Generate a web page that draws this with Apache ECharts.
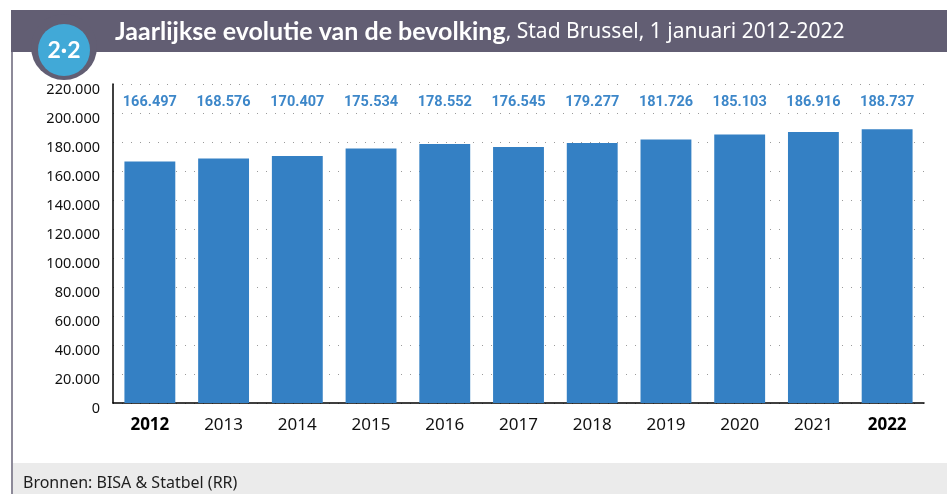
<!DOCTYPE html>
<html>
<head>
<meta charset="utf-8">
<script src="https://cdn.jsdelivr.net/npm/echarts@6/dist/echarts.min.js"></script>
<style>
html,body{margin:0;padding:0;background:#fff;}
#chart{width:947px;height:494px;}
</style>
</head>
<body>
<div id="chart"></div>
<script>
var years = ['2012','2013','2014','2015','2016','2017','2018','2019','2020','2021','2022'];
var population = [166497,168576,170407,175534,178552,176545,179277,181726,185103,186916,188737];
var yTicks = [0,20000,40000,60000,80000,100000,120000,140000,160000,180000,200000,220000];

// 166497 -> "166.497"
function dots(n){
	return String(n).replace(/\B(?=(\d{3})+(?!\d))/g,'.');
}

var chart = echarts.init(document.getElementById('chart'));
var option = {
	animation:false,
	backgroundColor:'#fff',
	grid:{left:113,right:23,top:84,bottom:91},
	graphic:[
		// frame + header
		{type:'rect',shape:{x:11,y:10,width:2,height:484},style:{fill:'#8d8a99'},z:1},
		{type:'rect',shape:{x:11,y:10,width:936,height:42},style:{fill:'#625e73'},z:2},
		{type:'circle',shape:{cx:64,cy:47,r:33},style:{fill:'#625e73'},z:2},
		{type:'circle',shape:{cx:64,cy:50,r:26},style:{fill:'#41a9d7'},z:3},
		{type:'text',x:64,y:51,z:4,style:{text:'2·2',fill:'#fff',font:'bold 23px Lato',align:'center',verticalAlign:'middle'}},
		{type:'text',x:115,y:32,z:4,style:{
			text:'{b|Jaarlijkse evolutie van de bevolking}{r|, Stad Brussel, 1 januari 2012-2022}',
			verticalAlign:'middle',
			rich:{
				b:{fill:'#fff',font:'bold 25px Lato'},
				r:{fill:'#fff',font:'21px "Noto Sans"'}
			}
		}},
		// footer
		{type:'rect',shape:{x:13,y:463,width:934,height:31},style:{fill:'#ebebeb'},z:1},
		{type:'text',x:23,y:483,z:2,style:{text:'Bronnen: BISA & Statbel (RR)',fill:'#1e1e1e',font:'16px "Noto Sans"',verticalAlign:'middle'}}
	],
	xAxis:[
		{
			type:'category',
			data:years,
			axisLine:{lineStyle:{color:'#000',width:1.5}},
			axisTick:{show:false},
			axisLabel:{
				interval:0,
				margin:14,
				color:'#111',
				fontFamily:'Noto Sans',
				fontSize:17,
				formatter:function(v,i){
					if(i==0||i==years.length-1){
						return '{b|'+v+'}';
					}
					return v;
				},
				rich:{b:{fontWeight:'bold',fontSize:17,fontFamily:'Noto Sans',color:'#000'}}
			}
		},
		{
			type:'category',
			position:'top',
			data:population.map(dots),
			axisLine:{show:false},
			axisTick:{show:false},
			axisLabel:{
				interval:0,
				inside:true,
				margin:18,
				verticalAlign:'middle',
				color:'#3d87c9',
				fontWeight:'bold',
				fontSize:14.5,
				fontFamily:'Roboto'
			}
		}
	],
	yAxis:{
		type:'value',
		min:0,
		max:yTicks[yTicks.length-1],
		interval:yTicks[1]-yTicks[0],
		axisLine:{show:true,lineStyle:{color:'#000',width:1.5}},
		axisTick:{show:false},
		splitLine:{lineStyle:{color:'#9a9a9a',type:[1,8],width:1}},
		axisLabel:{
			margin:13,
			color:'#111',
			fontFamily:'Noto Sans',
			fontSize:14.5,
			verticalAlign:'top',
			lineHeight:12,
			formatter:function(v){return dots(v);}
		}
	},
	series:[{
		type:'bar',
		data:population,
		barCategoryGap:'31%',
		itemStyle:{color:'#3480c4'}
	}]
};
chart.setOption(option);
</script>
</body>
</html>
